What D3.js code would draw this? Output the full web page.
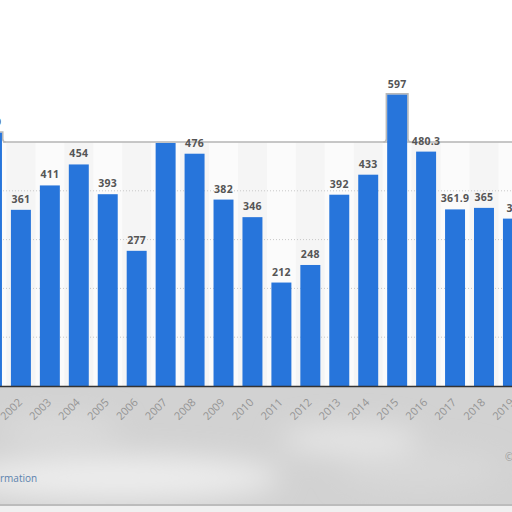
<!DOCTYPE html>
<html lang="en">
<head>
<meta charset="utf-8">
<script src="https://d3js.org/d3.v7.min.js"></script>
<style type="text/css">
body {
	margin: 0;
	background-color: white;
	font-family: "Open Sans", sans-serif;
}
</style>
</head>
<body>
<svg id="chart"></svg>
<script type="text/javascript">

	// values
	var years = ["2001", "2002", "2003", "2004", "2005", "2006", "2007", "2008", "2009", "2010",
		"2011", "2012", "2013", "2014", "2015", "2016", "2017", "2018", "2019"];
	var values = [519, 361, 411, 454, 393, 277, 498, 476, 382, 346,
		212, 248, 392, 433, 597, 480.3, 361.9, 365, 343];
	var labels = ["519", "361", "411", "454", "393", "277", "", "476", "382", "346",
		"212", "248", "392", "433", "597", "480.3", "361.9", "365", "34"];
	var gridTicks = [100, 200, 300, 400];

	var width = 512, height = 512;
	var axisY = 386;

	var svg = d3.select("#chart")
		.attr("width", width)
		.attr("height", height);

	var x = d3.scaleBand()
		.domain(years)
		.range([-22.5, 527.4])
		.paddingInner(0.31)
		.paddingOuter(0.155);

	var y = d3.scaleLinear()
		.domain([0, 500])
		.range([axisY, 142]);

	var defs = svg.append("defs");
	defs.append("filter").attr("id", "blur")
		.attr("x", "-50%").attr("y", "-50%").attr("width", "200%").attr("height", "200%")
		.append("feGaussianBlur").attr("stdDeviation", 14);

	// plot background below the top border
	svg.append("rect")
		.attr("x", 0).attr("y", y(500))
		.attr("width", width).attr("height", axisY - y(500))
		.style("fill", "#fbfbfb");

	svg.selectAll("rect.band")
		.data(years.filter(function(d, i) { return i % 2 === 1; }))
		.join("rect")
		.attr("class", "band")
		.attr("x", function(d) { return x(d) - x.step() * 0.155; })
		.attr("y", y(500))
		.attr("width", x.step())
		.attr("height", axisY - y(500))
		.style("fill", "#f5f5f5");

	// grid
	svg.selectAll("line.grid")
		.data(gridTicks)
		.join("line")
		.attr("class", "grid")
		.attr("x1", 0).attr("x2", width)
		.attr("y1", function(d) { return y(d); })
		.attr("y2", function(d) { return y(d); })
		.style("stroke", "#c8c8c8")
		.style("stroke-dasharray", "1,2");

	// top border of the plot area
	svg.append("line")
		.attr("x1", 3).attr("x2", width)
		.attr("y1", y(500)).attr("y2", y(500))
		.style("stroke", "#b4b4b4")
		.style("stroke-width", 1.6);

	// grey outline round the parts of bars that rise above the border
	svg.selectAll("path.outline")
		.data(values.map(function(d, i) { return [years[i], d]; }).filter(function(p) { return p[1] > 500; }))
		.join("path")
		.attr("class", "outline")
		.attr("d", function(p) {
			var x0 = x(p[0]) - 0.8, x1 = x(p[0]) + x.bandwidth() + 0.8, yt = y(p[1]) - 0.8;
			return "M" + (x0 - 3) + "," + y(500) + "Q" + x0 + "," + y(500) + " " + x0 + "," + (y(500) - 3) +
				"L" + x0 + "," + yt + "L" + x1 + "," + yt + "L" + x1 + "," + (y(500) - 3) +
				"Q" + x1 + "," + y(500) + " " + (x1 + 3) + "," + y(500);
		})
		.style("fill", "none")
		.style("stroke", "#b8b8b8")
		.style("stroke-width", 1.6);

	// bars
	svg.selectAll("rect.bar")
		.data(values)
		.join("rect")
		.attr("class", "bar")
		.attr("x", function(d, i) { return x(years[i]); })
		.attr("y", function(d) { return y(d); })
		.attr("width", x.bandwidth())
		.attr("height", function(d) { return axisY - y(d); })
		.style("fill", "#2775db");

	// value labels
	svg.selectAll("text.value")
		.data(values)
		.join("text")
		.attr("class", "value")
		.attr("x", function(d, i) { return x(years[i]) + x.bandwidth() / 2; })
		.attr("y", function(d) { return y(d) - 7; })
		.attr("text-anchor", "middle")
		.style("font-size", "10.5px")
		.style("font-weight", "bold")
		.style("letter-spacing", "0.3px")
		.style("fill", "#555")
		.text(function(d, i) { return labels[i]; });

	// lower grey footer area
	var foot = svg.append("g");
	foot.append("rect")
		.attr("x", 0).attr("y", axisY + 1)
		.attr("width", width).attr("height", 118)
		.style("fill", "#d2d2d2");
	var blobs = foot.append("g").attr("filter", "url(#blur)");
	blobs.append("ellipse").attr("cx", 120).attr("cy", 478).attr("rx", 160).attr("ry", 22).style("fill", "#ededed");
	blobs.append("ellipse").attr("cx", 350).attr("cy", 440).attr("rx", 70).attr("ry", 14).style("fill", "#e6e6e6");
	blobs.append("ellipse").attr("cx", 420).attr("cy", 470).attr("rx", 80).attr("ry", 20).style("fill", "#d8d8d8");
	blobs.append("ellipse").attr("cx", 60).attr("cy", 430).attr("rx", 60).attr("ry", 14).style("fill", "#dcdcdc");
	foot.append("line")
		.attr("x1", 0).attr("x2", width)
		.attr("y1", 505).attr("y2", 505)
		.style("stroke", "#bcbcbc").style("stroke-width", 2);
	foot.append("rect")
		.attr("x", 0).attr("y", 506)
		.attr("width", width).attr("height", 6)
		.style("fill", "#f0f0f0");

	// axis line
	svg.append("line")
		.attr("x1", 0).attr("x2", width)
		.attr("y1", axisY + 0.5).attr("y2", axisY + 0.5)
		.style("stroke", "#333")
		.style("stroke-width", 1.5);

	// year labels
	svg.selectAll("text.year")
		.data(years)
		.join("text")
		.attr("class", "year")
		.attr("text-anchor", "end")
		.attr("transform", function(d) {
			return "translate(" + (x(d) + x.bandwidth() / 2 + 2) + "," + (axisY + 17) + ") rotate(-45)";
		})
		.style("font-size", "11px")
		.style("fill", "#949494")
		.text(function(d) { return d; });

	svg.append("text")
		.attr("x", 0).attr("y", 482)
		.style("font-size", "10px")
		.style("fill", "#5b82ad")
		.text("rmation");
	svg.append("text")
		.attr("x", 505).attr("y", 461)
		.style("font-size", "10px")
		.style("fill", "#9a9a9a")
		.text("©");

</script>
</body>
</html>
